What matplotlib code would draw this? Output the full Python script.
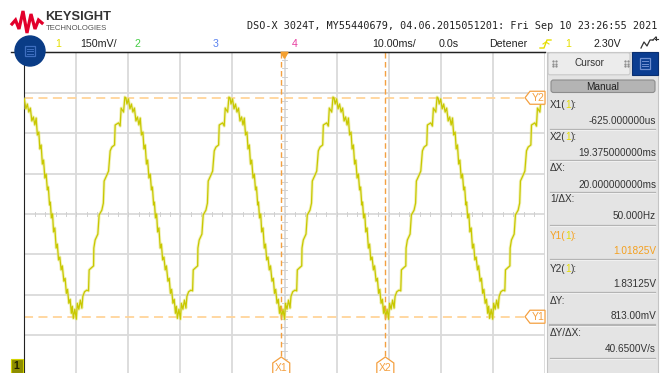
import matplotlib.pyplot as plt
from matplotlib.patches import Circle, Rectangle, FancyBboxPatch, Polygon
import numpy as np

W, H = 670, 373

# scope settings
TIME_DIV_MS = 10.0
VOLT_DIV = 0.150
OFFSET_V = 1.40
PERIOD_MS = 20.0

# one cycle of channel 1: peak -> trough at 0 ms -> next peak (ms, V)
cycle_t = [-10.47, -10.28, -9.99, -9.70, -9.42, -9.13, -8.84, -8.55, -8.26, -7.97,
           -7.72, -7.49, -7.21, -7.01, -6.76, -6.53, -6.30, -6.05, -5.80, -5.57,
           -5.38, -5.15, -5.00, -4.80, -4.57, -4.38, -4.13, -3.88, -3.65, -3.42,
           -3.17, -2.92, -2.69, -2.40, -2.15, -1.92, -1.69, -1.44, -1.19, -0.96,
           -0.77, -0.58, -0.29, 0.00, 0.19, 0.48, 0.77, 1.06, 1.25, 1.58,
           2.02, 2.34, 2.46, 2.84, 3.31, 3.36, 3.61, 4.13, 4.38, 4.90,
           5.19, 5.34, 5.86, 6.19, 6.50, 6.82, 7.34, 7.46, 8.11, 8.42,
           8.61, 9.07, 9.32]
cycle_v = [1.830, 1.808, 1.827, 1.790, 1.808, 1.778, 1.793, 1.745, 1.760, 1.730,
           1.756, 1.693, 1.704, 1.641, 1.656, 1.585, 1.600, 1.533, 1.548, 1.489,
           1.500, 1.433, 1.444, 1.385, 1.400, 1.333, 1.348, 1.273, 1.288, 1.229,
           1.240, 1.192, 1.207, 1.150, 1.161, 1.105, 1.120, 1.068, 1.083, 1.031,
           1.057, 1.012, 1.046, 1.009, 1.068, 1.046, 1.080, 1.050, 1.094, 1.111,
           1.117, 1.114, 1.192, 1.199, 1.207, 1.273, 1.303, 1.325, 1.396, 1.414,
           1.440, 1.522, 1.544, 1.559, 1.634, 1.648, 1.656, 1.730, 1.738, 1.726,
           1.793, 1.778, 1.834]
cycle_index = [-2, -1, 0, 1, 2, 3]

# cursors
x1_ms, x2_ms = -0.625, 19.375
y1_v, y2_v = 1.01825, 1.83125

# readout panel
readout_labels = ["X1(", "X2(", "\u0394X:", "1/\u0394X:", "Y1(", "Y2(", "\u0394Y:", "\u0394Y/\u0394X:"]
readout_values = ["-625.000000us", "19.375000000ms", "20.000000000ms", "50.000Hz",
                  "1.01825V", "1.83125V", "813.00mV", "40.6500V/s"]
label_rows = [105, 137.5, 168, 198.5, 236, 268.5, 300.5, 333.5]
value_rows = [121, 153, 184.5, 216, 250.5, 284, 316, 349]
sep_rows = [128.5, 160, 191.5, 224.5, 259, 291.5, 324.5, 357.5]

header = "DSO-X 3024T, MY55440679, 04.06.2015051201: Fri Sep 10 23:26:55 2021"

TRACE = "#c8c800"
CH_YELLOW = "#e6de00"
CURSOR_X = "#f4a040"
CURSOR_Y = "#ffd49a"
GRID = "#dadada"
SANS = "Liberation Sans"

# graticule position in pixels
PL, PR, PT, PB = 24.3, 544.7, 52.3, 375.5

fig = plt.figure(figsize=(W / 100, H / 100), dpi=100)
fig.patch.set_facecolor("white")

ax = fig.add_axes([PL / W, (H - PB) / H, (PR - PL) / W, (PB - PT) / H])
ax.set_xlim(-5 * TIME_DIV_MS, 5 * TIME_DIV_MS)
ax.set_ylim(OFFSET_V - 4 * VOLT_DIV, OFFSET_V + 4 * VOLT_DIV)
ax.set_xticks(np.arange(-5, 6) * TIME_DIV_MS)
ax.set_yticks(OFFSET_V + np.arange(-4, 5) * VOLT_DIV)
ax.tick_params(length=0, labelbottom=False, labelleft=False)
ax.grid(True, color=GRID, lw=1.3)
ax.set_axisbelow(True)
for side in ["bottom", "right"]:
    ax.spines[side].set_visible(False)
ax.spines["left"].set_color("#222222")
ax.spines["top"].set_color("#222222")

# minor ticks on the centre lines
for t in np.arange(-50, 50.1, 2.0):
    ax.plot([t, t], [OFFSET_V - 0.007, OFFSET_V + 0.007], color="#d0d0d0", lw=0.7, zorder=1)
for v in np.arange(-4, 4.01, 0.2) * VOLT_DIV + OFFSET_V:
    ax.plot([-0.4, 0.4], [v, v], color="#d0d0d0", lw=0.7, zorder=1)

# channel 1 trace
t_all = np.concatenate([np.array(cycle_t) + k * PERIOD_MS for k in cycle_index])
v_all = np.concatenate([np.array(cycle_v) for k in cycle_index])
ax.plot(t_all, v_all, color="#e6e680", lw=2.2, alpha=0.55, zorder=3)
ax.plot(t_all, v_all, color=TRACE, lw=0.9, zorder=4)

# cursor lines
ax.axhline(y1_v, color=CURSOR_Y, lw=1.3, dashes=(5, 3), zorder=2)
ax.axhline(y2_v, color=CURSOR_Y, lw=1.3, dashes=(5, 3), zorder=2)
ax.axvline(x1_ms, color=CURSOR_X, lw=1.0, dashes=(4, 2.5), zorder=5)
ax.axvline(x2_ms, color=CURSOR_X, lw=1.0, dashes=(4, 2.5), zorder=5)

# overlay in pixel coordinates for the instrument chrome
ov = fig.add_axes([0, 0, 1, 1])
ov.set_xlim(0, W)
ov.set_ylim(H, 0)
ov.axis("off")
ov.patch.set_alpha(0)


def px_x(t):
    return PL + (t + 5 * TIME_DIV_MS) / (10 * TIME_DIV_MS) * (PR - PL)


def px_y(v):
    return PB - (v - (OFFSET_V - 4 * VOLT_DIV)) / (8 * VOLT_DIV) * (PB - PT)


# Keysight logo
ov.plot([12, 15.5, 19, 23, 27, 31, 35, 38.5, 42], [24, 20, 29, 11, 33, 14, 29, 20, 23],
        color="#e2002b", lw=2.3, solid_joinstyle="miter")
ov.text(45, 17.5, "KEYSIGHT", fontsize=9.3, fontweight="bold", color="#333333",
        family=SANS, va="center", ha="left")
ov.text(46, 28, "TECHNOLOGIES", fontsize=5.6, color="#555555", family=SANS,
        va="center", ha="left")

ov.text(657, 26, header, fontsize=7.3, family="DejaVu Sans Mono", color="#222222",
        ha="right", va="center")

# top status row
ov.plot([11, PR], [PT, PT], color="#222222", lw=1.0)
ov.add_patch(Circle((30, 51), 15, color="#0a3c86", zorder=6))
ov.add_patch(Rectangle((25, 45.5), 10, 10, fill=False, ec="#3f6fc0", lw=0.9, zorder=7))
for yy in (48.5, 51, 53.5):
    ov.plot([27, 33], [yy, yy], color="#3f6fc0", lw=0.7, zorder=7)

row_y = 44
ov.text(58, row_y, "1", fontsize=7.7, color=CH_YELLOW, family=SANS, va="center", ha="center")
ov.text(80, row_y, "150mV/", fontsize=7.7, color="#222222", family=SANS, va="center")
ov.text(137, row_y, "2", fontsize=7.7, color="#44cc44", family=SANS, va="center", ha="center")
ov.text(216, row_y, "3", fontsize=7.7, color="#5a82f0", family=SANS, va="center", ha="center")
ov.text(295, row_y, "4", fontsize=7.7, color="#e83ca0", family=SANS, va="center", ha="center")
ov.text(372, row_y, "10.00ms/", fontsize=7.7, color="#222222", family=SANS, va="center")
ov.text(439, row_y, "0.0s", fontsize=7.7, color="#222222", family=SANS, va="center")
ov.text(489, row_y, "Detener", fontsize=7.7, color="#222222", family=SANS, va="center")
ov.plot([540, 544, 547, 551], [48, 48, 40, 40], color=CH_YELLOW, lw=1.0)
ov.plot([543, 546, 549], [44, 42, 44], color=CH_YELLOW, lw=0.8)
ov.text(568, row_y, "1", fontsize=7.7, color=CH_YELLOW, family=SANS, va="center", ha="center")
ov.text(593, row_y, "2.30V", fontsize=7.7, color="#222222", family=SANS, va="center")
ov.plot([641, 644, 647, 650, 653], [48, 42, 46, 40, 40], color="#333333", lw=0.9)
ov.plot([653, 656], [40, 37], color="#333333", lw=0.9)
ov.plot([654.5, 657.5], [38.5, 38.5], color="#333333", lw=0.8)
ov.plot([656, 656], [37, 40], color="#333333", lw=0.8)

# trigger position marker
ov.add_patch(Polygon([[281, PT], [288, PT], [284.5, PT + 6]], closed=True,
                     color="#f4a030", zorder=8))

# ground reference marker for channel 1
ov.add_patch(Rectangle((10.5, 359), 12.5, 14, fc="#8c8c00", ec="#d4d400", lw=0.8, zorder=8))
ov.text(16.5, 366, "1", fontsize=7.5, color="#222200", family=SANS, va="center",
        ha="center", fontweight="bold", zorder=9)

# X cursor tags
for name, t in (("X1", x1_ms), ("X2", x2_ms)):
    cx = px_x(t)
    tag = Polygon([[cx, 357], [cx + 8.5, 363], [cx + 8.5, 374], [cx - 8.5, 374], [cx - 8.5, 363]],
                  closed=True, fc="white", ec=CURSOR_X, lw=0.9, zorder=9)
    ov.add_patch(tag)
    ov.text(cx, 368, name, fontsize=7.5, color=CURSOR_X, family=SANS, ha="center",
            va="center", zorder=10)

# Y cursor tags
for name, v in (("Y1", y1_v), ("Y2", y2_v)):
    cy = px_y(v)
    tag = Polygon([[525, cy], [530, cy - 6.5], [545, cy - 6.5], [545, cy + 6.5], [530, cy + 6.5]],
                  closed=True, fc="white", ec=CURSOR_X, lw=0.9, zorder=9)
    ov.add_patch(tag)
    ov.text(538, cy, name, fontsize=7.5, color=CURSOR_X, family=SANS, ha="center",
            va="center", zorder=10)

# cursor readout panel
ov.add_patch(Rectangle((547, PT), 111, H - PT + 2, fc="#e4e4e4", ec="#c4c4c4", lw=0.8, zorder=2))
ov.add_patch(FancyBboxPatch((548, PT + 0.5), 82, 22, boxstyle="round,pad=0,rounding_size=2",
                            fc="#ececec", ec="#c8c8c8", lw=0.8, zorder=3))
ov.text(589, 63.5, "Cursor", fontsize=7.2, color="#333333", family=SANS, ha="center",
        va="center", zorder=4)
for gx in (553, 625):
    for gy in (61, 63.5, 66):
        ov.plot([gx, gx + 2.5], [gy, gy], ls="none", marker=".", ms=1.2, color="#888888", zorder=4)
ov.add_patch(Rectangle((632, PT), 26, 23, fc="#0b3d91", ec="#0a2f70", lw=0.8, zorder=3))
ov.add_patch(Rectangle((640, 58), 10, 11, fill=False, ec="#6f8fd0", lw=0.9, zorder=4))
for yy in (61, 63.5, 66):
    ov.plot([642, 648], [yy, yy], color="#6f8fd0", lw=0.7, zorder=4)

ov.add_patch(FancyBboxPatch((551, 80), 104, 12.5, boxstyle="round,pad=0,rounding_size=2.5",
                            fc="#b4b4b4", ec="#8c8c8c", lw=0.8, zorder=3))
ov.text(603, 86.5, "Manual", fontsize=7.2, color="#222222", family=SANS, ha="center",
        va="center", zorder=4)

for i, (lab, val) in enumerate(zip(readout_labels, readout_values)):
    col = "#f4a020" if lab.startswith("Y1") else "#333333"
    if lab.endswith("("):
        t1 = ov.text(550, label_rows[i], lab, fontsize=7.2, color=col, family=SANS,
                     va="center", zorder=4)
        fig.canvas.draw()
        x_end = t1.get_window_extent().x1
        t2 = ov.annotate("1", xy=(0, 0), xycoords="figure pixels", fontsize=7.2,
                         color=CH_YELLOW, family=SANS, va="center", zorder=4)
        t2.set_position((x_end, H - label_rows[i]))
        t3 = ov.annotate("):", xy=(0, 0), xycoords="figure pixels", fontsize=7.2,
                         color=col, family=SANS, va="center", zorder=4)
        t3.set_position((x_end + 5.3, H - label_rows[i]))
    else:
        ov.text(550, label_rows[i], lab, fontsize=7.2, color=col, family=SANS,
                va="center", zorder=4)
    ov.text(656, value_rows[i], val, fontsize=7.2, color=col, family=SANS,
            ha="right", va="center", zorder=4)
    ov.plot([550, 655], [sep_rows[i], sep_rows[i]], color="#b4b4b4",
            lw=1.6 if i == 6 else 0.9, zorder=4)
    ov.plot([550, 655], [sep_rows[i] + 1, sep_rows[i] + 1], color="#f4f4f4", lw=0.6, zorder=4)

fig.savefig("out.png", dpi=100)
